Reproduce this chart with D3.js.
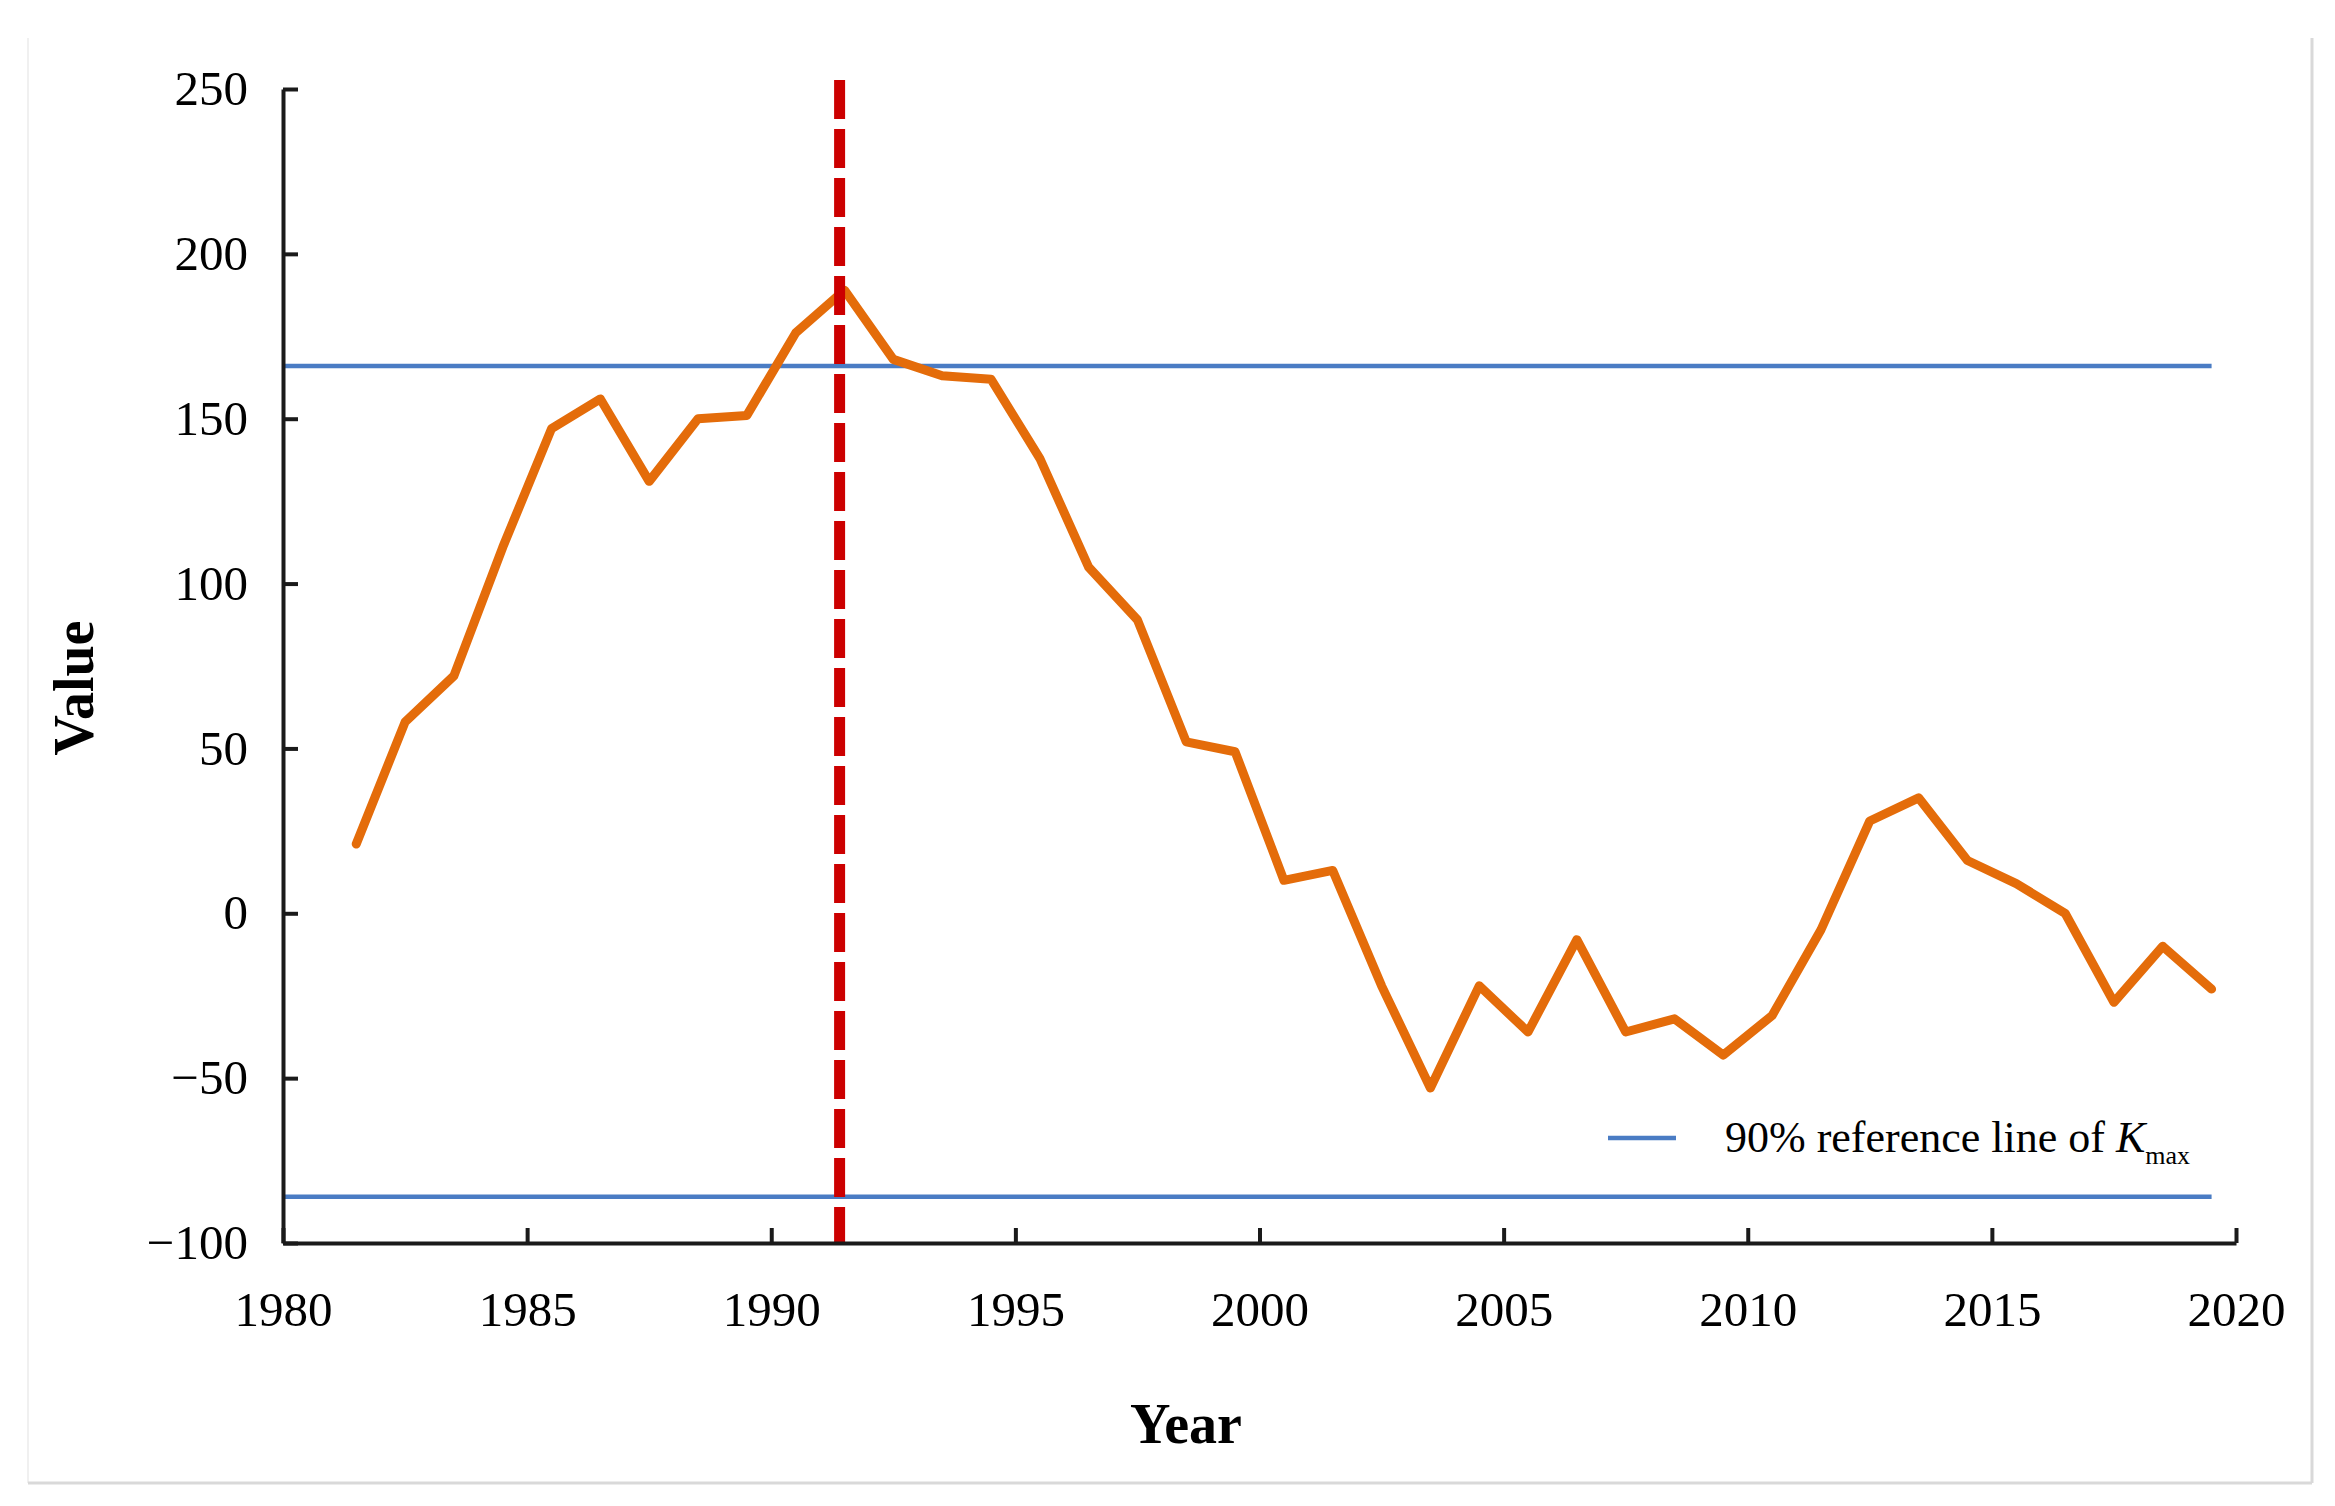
<!DOCTYPE html>
<html>
<head>
<meta charset="utf-8">
<script src="https://cdn.jsdelivr.net/npm/d3@7/dist/d3.min.js"></script>
<style>
  html, body { margin: 0; padding: 0; background: #fff; }
  svg { display: block; }
  text { font-family: "Liberation Serif", "Times New Roman", serif; fill: #000; }
</style>
</head>
<body>
<svg id="chart" width="2335" height="1506"></svg>
<script>
// ---- data ----
const years = d3.range(1982, 2021); // 39 yearly values
const values = [21, 58, 72, 111, 147, 156, 131, 150, 151, 176, 189, 168, 163, 162, 138, 105, 89, 52, 49, 10,
                13, -22, -53, -22, -36, -8, -36, -32, -43, -31, -5, 28, 35, 16, 9, 0, -27, -10, -23];
const referenceLines = [166, -86];      // 90% reference lines of Kmax
const changePoint = 1991.4;             // red dashed line position (axis units)
const yTicks = [-100, -50, 0, 50, 100, 150, 200, 250];
const xTicks = [1980, 1985, 1990, 1995, 2000, 2005, 2010, 2015, 2020];
const xLabel = "Year";
const yLabel = "Value";
const legendText = "90% reference line of ";

const data = years.map((yr, i) => ({ year: yr, value: values[i] }));

// ---- layout ----
const svg = d3.select("#chart");
const x = d3.scaleLinear().domain([1980, 2020]).range([283, 2236]);
const y = d3.scaleLinear().domain([-100, 250]).range([1243, 89]);
const xPos = d => x(d.year - 0.5);

// figure frame
svg.append("line").attr("x1", 28).attr("y1", 38).attr("x2", 28).attr("y2", 1483)
  .attr("stroke", "#f0f0f0").attr("stroke-width", 2);
svg.append("line").attr("x1", 2312).attr("y1", 38).attr("x2", 2312).attr("y2", 1483)
  .attr("stroke", "#d9d9d9").attr("stroke-width", 3);
svg.append("line").attr("x1", 28).attr("y1", 1483).attr("x2", 2312).attr("y2", 1483)
  .attr("stroke", "#d9d9d9").attr("stroke-width", 3);

// reference lines
const lastX = xPos(data[data.length - 1]);
svg.selectAll("line.ref").data(referenceLines).enter().append("line")
  .attr("class", "ref")
  .attr("x1", x(1980)).attr("x2", lastX)
  .attr("y1", d => y(d)).attr("y2", d => y(d))
  .attr("stroke", "#4a7cc4").attr("stroke-width", 4.5);

// series line
svg.append("path").datum(data)
  .attr("fill", "none")
  .attr("stroke", "#e46c0a")
  .attr("stroke-width", 9)
  .attr("stroke-linejoin", "round")
  .attr("stroke-linecap", "round")
  .attr("d", d3.line().x(xPos).y(d => y(d.value)));

// change point dashed line
svg.append("line")
  .attr("x1", x(changePoint)).attr("x2", x(changePoint))
  .attr("y1", 80).attr("y2", y(-100))
  .attr("stroke", "#cc0000").attr("stroke-width", 11)
  .attr("stroke-dasharray", "39,10");

// axes
const yAxis = d3.axisLeft(y).tickValues(yTicks).tickSizeInner(-15).tickSizeOuter(0).tickPadding(35);
const xAxis = d3.axisBottom(x).tickValues(xTicks).tickFormat(d3.format("d"))
  .tickSizeInner(-15).tickSizeOuter(0).tickPadding(48);

const gy = svg.append("g").attr("transform", `translate(${x(1980)},0)`).call(yAxis);
const gx = svg.append("g").attr("transform", `translate(0,${y(-100)})`).call(xAxis);

[gx, gy].forEach(g => {
  g.select(".domain").attr("stroke", "#1a1a1a").attr("stroke-width", 4);
  g.selectAll(".tick line").attr("stroke", "#1a1a1a").attr("stroke-width", 4);
  g.selectAll(".tick text").attr("font-size", 49)
    .attr("font-family", '"Liberation Serif", "Times New Roman", serif').attr("fill", "#000");
});

// axis titles
svg.append("text").attr("x", 1186).attr("y", 1443)
  .attr("text-anchor", "middle").attr("font-size", 56).attr("font-weight", "bold")
  .text(xLabel);
svg.append("text")
  .attr("transform", "translate(93,688) rotate(-90)")
  .attr("text-anchor", "middle").attr("font-size", 56).attr("font-weight", "bold")
  .text(yLabel);

// legend
svg.append("line").attr("x1", 1608).attr("x2", 1676).attr("y1", 1138).attr("y2", 1138)
  .attr("stroke", "#4a7cc4").attr("stroke-width", 4.5);
const lt = svg.append("text").attr("x", 1725).attr("y", 1152).attr("font-size", 44);
lt.append("tspan").text(legendText);
lt.append("tspan").attr("font-style", "italic").text("K");
lt.append("tspan").attr("font-size", 26).attr("dy", 12).text("max");
</script>
</body>
</html>
